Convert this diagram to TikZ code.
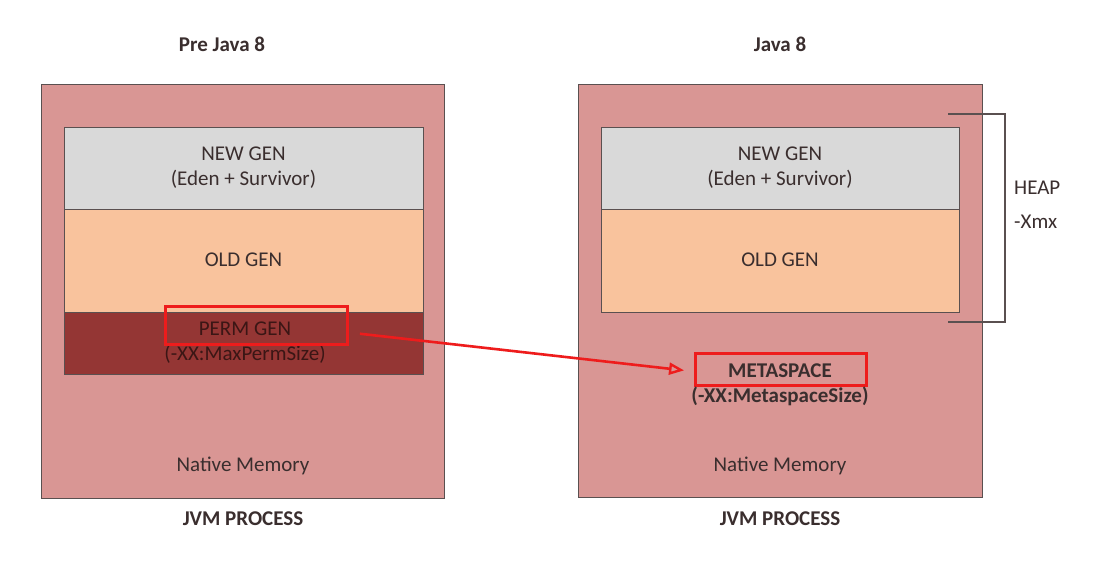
\documentclass[tikz,border=0pt]{standalone}
\usepackage{fontspec}
\setmainfont{Carlito}
\usetikzlibrary{arrows.meta}
\definecolor{procfill}{HTML}{D99694}
\definecolor{newfill}{HTML}{D9D9D9}
\definecolor{oldfill}{HTML}{F9C39D}
\definecolor{permfill}{HTML}{943634}
\definecolor{txt}{HTML}{3A2E2E}
\definecolor{edge}{HTML}{5A5050}
\definecolor{hl}{HTML}{EE1C1C}
\tikzset{
  proc/.style={draw=edge, line width=1.1pt, fill=procfill, anchor=north west, inner sep=0pt},
  region/.style={draw=edge, line width=1.1pt, anchor=north west, inner sep=0pt},
  hlbox/.style={draw=hl, line width=3pt, anchor=north west, inner sep=0pt},
  lbl/.style={text=txt, font=\fontsize{21}{25}\selectfont, align=center, inner sep=0pt},
  blbl/.style={lbl, font=\fontsize{21}{25}\selectfont\bfseries},
}
\begin{document}
\begin{tikzpicture}[x=1pt,y=-1pt]
\useasboundingbox[fill=white] (0,0) rectangle (1099,560);
% left
\node[blbl] (t1) at (222,44) {Pre Java 8};
\node[proc, minimum width=403pt, minimum height=414pt] (p1) at (41,84) {};
\node[region, fill=newfill, minimum width=359pt, minimum height=82pt] (n1) at (64,127) {};
\node[region, fill=oldfill, minimum width=359pt, minimum height=103pt] (o1) at (64,209) {};
\node[region, fill=permfill, minimum width=359pt, minimum height=62pt] (g1) at (64,312) {};
\node[lbl] (n1t) at (243.5,168) {NEW GEN\\(Eden + Survivor)};
\node[lbl] (o1t) at (243.5,260) {OLD GEN};
\node[lbl, text=permfill!40!black] (g1t) at (245,343) {PERM GEN\\(-XX:MaxPermSize)};
\node[hlbox, minimum width=182pt, minimum height=38pt] (pr) at (164,305) {};
\node[lbl] (m1) at (243,466) {Native Memory};
\node[blbl] (j1) at (243,519) {JVM PROCESS};
% right
\node[blbl] (t2) at (780,44) {Java 8};
\node[proc, minimum width=404pt, minimum height=413pt] (p2) at (578,84) {};
\node[region, fill=newfill, minimum width=358pt, minimum height=82pt] (n2) at (601,127) {};
\node[region, fill=oldfill, minimum width=358pt, minimum height=103pt] (o2) at (601,209) {};
\node[lbl] (n2t) at (780,168) {NEW GEN\\(Eden + Survivor)};
\node[lbl] (o2t) at (780,260) {OLD GEN};
\node[hlbox, minimum width=171pt, minimum height=32pt] (ms) at (694,352) {};
\node[blbl] (mst) at (780,384.5) {METASPACE\\(-XX:MetaspaceSize)};
\node[lbl] (m2) at (780,466) {Native Memory};
\node[blbl] (j2) at (780,519) {JVM PROCESS};
% heap bracket
\coordinate (ba) at (948,114);
\coordinate (bb) at (948,322);
\draw[edge, line width=1.2pt] (ba) -- ++(57,0) |- (bb);
\node[lbl, anchor=west] (heap) at (1014,188) {HEAP};
\node[lbl, anchor=west] (xmx) at (1014,222) {-Xmx};
% arrow
\draw[hl, line width=2.6pt, -{Triangle[open, length=15pt, width=12pt, line width=2.4pt]}, shorten <=11pt, shorten >=10pt]
  ([yshift=-7pt]pr.east) -- ([yshift=-2pt]ms.west);
\end{tikzpicture}
\end{document}
